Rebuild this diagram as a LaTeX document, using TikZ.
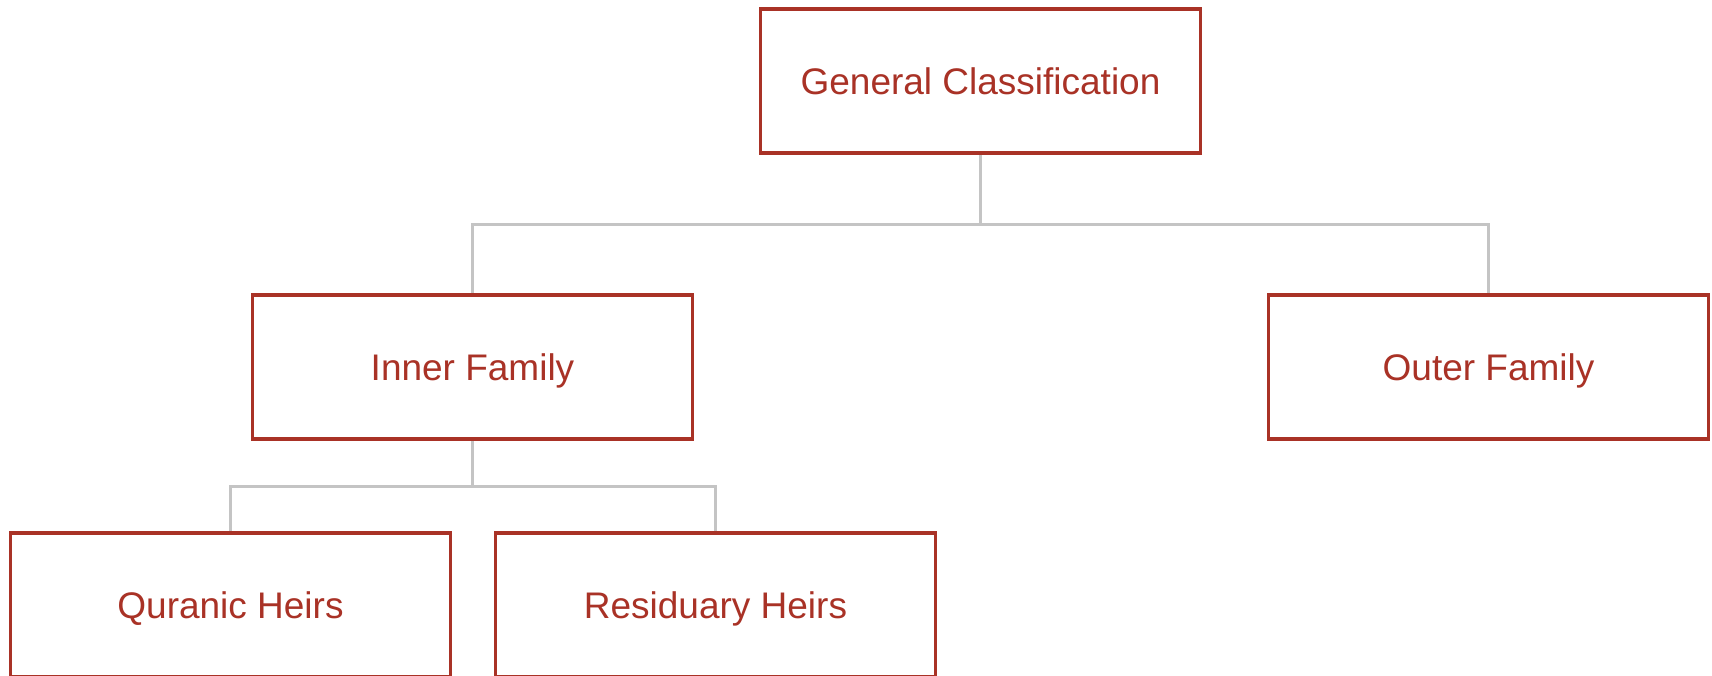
\documentclass[tikz,border=0pt]{standalone}
\usepackage{fontspec}
\setmainfont{Liberation Sans}
\usetikzlibrary{backgrounds}
\definecolor{boxred}{HTML}{A93226}
\definecolor{linegray}{HTML}{C4C4C4}
\begin{document}
\begin{tikzpicture}[x=0.5pt,y=-0.5pt,
  orgbox/.style={draw=boxred, line width=1.65pt, fill=white, rectangle,
    minimum width=220pt, minimum height=72pt, inner sep=0pt,
    text height=13.2pt, text depth=0pt,
    text=boxred, font=\fontsize{18.5}{22}\selectfont},
  conn/.style={draw=linegray, line width=1.5pt}]
\clip (0,0) rectangle (1712,675);
\useasboundingbox (0,0) rectangle (1712,675);
\node[orgbox] (gen) at (980.5,81) {General Classification};
\node[orgbox] (inner) at (472.5,367) {Inner Family};
\node[orgbox] (outer) at (1488.5,367) {Outer Family};
\node[orgbox] (quran) at (230.5,605) {Quranic Heirs};
\node[orgbox] (resid) at (715.5,605) {Residuary Heirs};
\coordinate (j1) at (980.5,224);
\coordinate (j2) at (472.5,486);
\begin{scope}[on background layer]
\fill[white] (0,0) rectangle (1712,675);
\draw[conn] (gen.south) -- (j1);
\draw[conn] (inner.north) |- (j1) -| (outer.north);
\draw[conn] (inner.south) -- (j2);
\draw[conn] (quran.north) |- (j2) -| (resid.north);
\end{scope}
\end{tikzpicture}
\end{document}
